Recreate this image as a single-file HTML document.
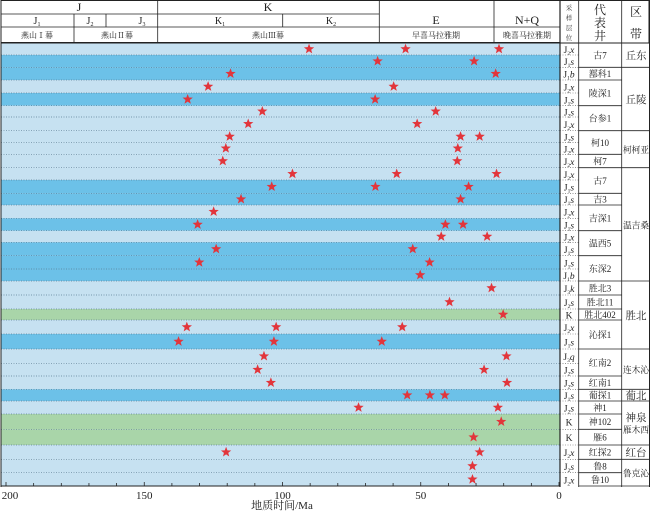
<!DOCTYPE html>
<html><head><meta charset="utf-8"><style>
html,body{margin:0;padding:0;background:#fff;}
svg{display:block;font-family:"Liberation Serif","Noto Serif CJK SC",serif;}
</style></head><body>
<svg id="c" width="650" height="511" viewBox="0 0 650 511" xmlns="http://www.w3.org/2000/svg"></svg>
<script>
const rowBounds=[43,55,67.3,80,93,105.7,117,130.7,142.3,154.3,167.7,180,193.3,205,218.3,230.7,242.3,255.7,269,281,295,309,320,334,349,363.3,376,389.3,401,414,429.3,445,459.3,472.7,486];
const rowColors=["L","D","D","L","D","L","L","L","L","L","L","D","D","L","D","L","D","D","D","L","L","G","L","D","L","L","L","D","L","G","G","L","L","L"];
const sampleLayers=["2x","1s","1b","2x","1s","2s","2x","2s","2x","2x","2x","1s","1s","2x","1s","2x","1s","1s","1b","3k","2s","K","2x","1s","3q","2s","2s","1s","2s","K","K","2x","2s","2x"];
const starAges=[[90.4,55.5,21.7],[65.6,30.7],[118.8,22.9],[126.9,59.8],[134.3,66.5],[107.3,44.6],[112.4,51.3],[119.1,35.6,28.7],[120.5,36.6],[121.6,36.8],[96.4,58.7,22.6],[103.9,66.4,32.7],[115,35.6],[124.9],[130.7,41.1,34.7],[42.6,26.0],[124,52.9],[130.1,46.8],[50.2],[24.4],[39.6],[20.2],[134.6,102.3,56.7],[137.6,103.1,64.1],[106.7,19.0],[109,27.1],[104.2,18.8],[54.9,46.7,41.3],[72.5,22.1],[20.9],[30.9],[120.4,28.7],[31.3],[31.3]];
const wells=[["古7",1,2],["鄯科1",3,3],["陵深1",4,5],["台参1",6,7],["柯10",8,9],["柯7",10,10],["古7",11,12],["吉3",13,13],["吉深1",14,15],["温西5",16,17],["东深2",18,19],["胜北3",20,20],["胜北11",21,21],["胜北402",22,22],["沁探1",23,24],["红南2",25,26],["红南1",27,27],["葡探1",28,28],["神1",29,29],["神102",30,30],["雁6",31,31],["红探2",32,32],["鲁8",33,33],["鲁10",34,34]];
const zones=[["丘东",1,2],["丘陵",3,7],["柯柯亚",8,10],["温吉桑",11,19],["胜北",20,24],["连木沁",25,27],["葡北",28,28],["神泉|雁木西",29,31],["红台",32,32],["鲁克沁",33,34]];
const tickLabels=[200,150,100,50,0];

const NS="http://www.w3.org/2000/svg";
const svg=document.getElementById('c');
function el(tag,attrs,parent){const e=document.createElementNS(NS,tag);for(const k in attrs)e.setAttribute(k,attrs[k]);(parent||svg).appendChild(e);return e;}
const X0=559,X200=6;
function xScale(t){return X0-(X0-X200)*t/200;}
const colorMap={L:"#c6e1f1",D:"#6cc1e8",G:"#a9d5a9"};

for(let i=0;i<rowColors.length;i++){
  const r=el('rect',{x:1,y:rowBounds[i],width:559,height:rowBounds[i+1]-rowBounds[i],fill:colorMap[rowColors[i]]});
  
  
  if(i>0){const l=el('line',{x1:1,x2:560,y1:rowBounds[i],y2:rowBounds[i],stroke:"#5a7d95","stroke-width":0.7,"stroke-dasharray":"1,1.5"});
  
  }
}
function starPath(cx,cy,R){const r=R*0.42;let d="";for(let k=0;k<10;k++){const a=-Math.PI/2+k*Math.PI/5;const rr=k%2?r:R;d+=(k?"L":"M")+(cx+rr*Math.cos(a)).toFixed(2)+","+(cy+rr*Math.sin(a)).toFixed(2);}return d+"Z";}
starAges.forEach((ages,i)=>{const cy=(rowBounds[i]+rowBounds[i+1])/2;ages.forEach(t=>{
  const s=el('path',{d:starPath(xScale(t),cy,5.4),fill:"#e2353b"});
  
  
});});

const hdr=el('g',{});


el('rect',{x:1,y:0.5,width:648,height:42.5,fill:"#fff",stroke:"#222","stroke-width":1},hdr);
const L=(x1,y1,x2,y2,w)=>el('line',{x1,y1,x2,y2,stroke:"#222","stroke-width":w||0.8},hdr);
L(1,14,379,14);L(1,27,379,27);L(1,42.5,560,42.5,1);L(379,27,560,27);
L(157.7,0,157.7,43);L(379.3,0,379.3,43);L(494,0,494,43);L(560,0,560,487,1.2);L(578.7,0,578.7,487);L(621.7,0,621.7,487);
L(74,14,74,43);L(106,14,106,27);L(282.7,14,282.7,27);
function T(x,y,s,size,parent,name){const t=el('text',{x,y,"font-size":size||11,"text-anchor":"middle",fill:"#222"},parent||hdr);t.textContent=s;return t;}
T(79,11,"J",12);T(268,11,"K",12);T(436,24,"E",12);T(527,24,"N+Q",12);
function sub(x,y,b,s){const t=el('text',{x,y,"font-size":10,"text-anchor":"middle",fill:"#222"},hdr);t.innerHTML=b+'<tspan font-size="6" dy="2">'+s+'</tspan>';}
sub(37,24,"J","1");sub(90,24,"J","2");sub(142,24,"J","3");sub(220,24,"K","1");sub(331,24,"K","2");
T(37,38,"燕山Ⅰ幕",8);T(117,38,"燕山Ⅱ幕",8);T(268,38,"燕山Ⅲ幕",8);T(436,38,"早喜马拉雅期",8);T(527,38,"晚喜马拉雅期",8);
["采","样","层","位"].forEach((c,i)=>T(569,10+i*10,c,6.5));
["代","表","井"].forEach((c,i)=>T(600,14+i*13,c,12));
T(636,16,"区",12);T(636,38,"带",12);

sampleLayers.forEach((s,i)=>{const y=(rowBounds[i]+rowBounds[i+1])/2+4;
  const t=el('text',{x:569,y,"font-size":9.5,"text-anchor":"middle",fill:"#222"});
  
  
  if(s==="K")t.textContent="K";else t.innerHTML='J<tspan font-size="5.5" dy="2">'+s[0]+'</tspan><tspan font-style="italic" dy="-2">'+s[1]+'</tspan>';
  if(i>0){const l=el('line',{x1:560,x2:579,y1:rowBounds[i],y2:rowBounds[i],stroke:"#555","stroke-width":0.6,"stroke-dasharray":"1,1.5"});
  
  }
});
wells.forEach(([n,a,b])=>{const y=(rowBounds[a-1]+rowBounds[b])/2+3.5;
  T(600,y,n,9,svg,'well-name');
  const l=el('line',{x1:579,x2:622,y1:rowBounds[b],y2:rowBounds[b],stroke:"#222","stroke-width":0.8});
  
  });
zones.forEach(([n,a,b])=>{const yc=(rowBounds[a-1]+rowBounds[b])/2;const parts=n.split('|');
  parts.forEach((p,k)=>{const fs=p.length>2?9:10.5;const t=T(636,yc+4+(k-(parts.length-1)/2)*12,p,fs,svg,'zone-name');
    if(p.length>2){t.setAttribute('textLength','26');t.setAttribute('lengthAdjust','spacingAndGlyphs');}});
  const l=el('line',{x1:622,x2:650,y1:rowBounds[b],y2:rowBounds[b],stroke:"#222","stroke-width":0.8});
  
  });
el('line',{x1:649.5,x2:649.5,y1:0,y2:487,stroke:"#222","stroke-width":1});
el('line',{x1:1,x2:1,y1:0,y2:487,stroke:"#222","stroke-width":1});

const ax=el('g',{});


el('line',{x1:1,x2:560,y1:486,y2:486,stroke:"#222","stroke-width":1},ax);
for(let t=0;t<=200;t+=10){const x=xScale(t);el('line',{x1:x,x2:x,y1:486,y2:t%50?483:482,stroke:"#222","stroke-width":0.8},ax);}
tickLabels.forEach(v=>T(xScale(v)+(v===200?4:0),499,String(v),11,ax,'x-tick-label'));
T(282,509,"地质时间/Ma",11,ax,'x-axis-title');
</script>
</body></html>
